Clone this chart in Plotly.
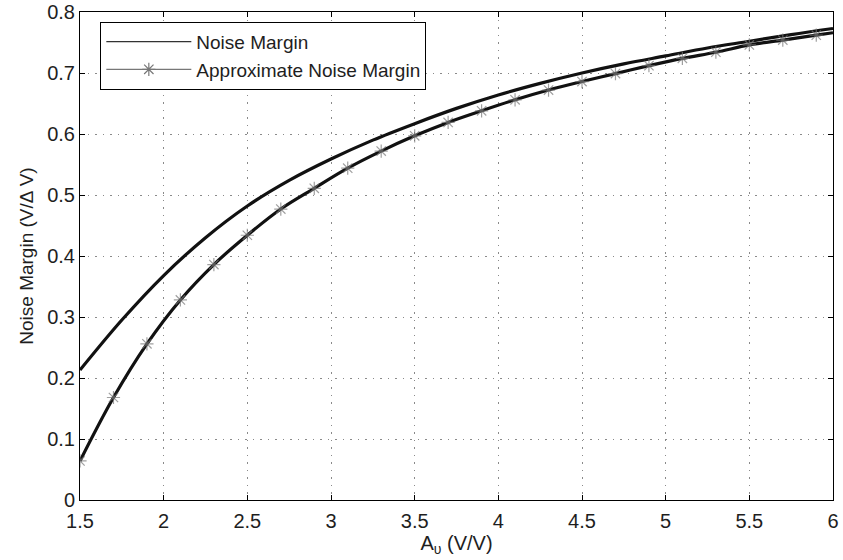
import plotly.graph_objects as go

# Exact noise margin vs. amplifier gain
gain_exact = [1.5, 1.75, 2.0, 2.25, 2.5, 2.75, 3.0, 3.25, 3.5, 3.75, 4.0,
              4.25, 4.5, 4.75, 5.0, 5.25, 5.5, 5.75, 6.0]
nm_exact = [0.213, 0.295, 0.368, 0.430, 0.482, 0.524, 0.559, 0.590, 0.617,
            0.642, 0.664, 0.683, 0.700, 0.715, 0.728, 0.741, 0.752, 0.763, 0.773]

# Approximate noise margin, sampled every 0.2 V/V
gain_approx = [1.5, 1.7, 1.9, 2.1, 2.3, 2.5, 2.7, 2.9, 3.1, 3.3, 3.5, 3.7,
               3.9, 4.1, 4.3, 4.5, 4.7, 4.9, 5.1, 5.3, 5.5, 5.7, 5.9, 6.0]
nm_approx = [0.064, 0.168, 0.256, 0.328, 0.386, 0.434, 0.477, 0.511, 0.544,
             0.572, 0.597, 0.619, 0.638, 0.656, 0.672, 0.686, 0.699, 0.712,
             0.724, 0.734, 0.746, 0.754, 0.762, 0.766]

x_ticks = [1.5, 2, 2.5, 3, 3.5, 4, 4.5, 5, 5.5, 6]
x_tick_text = ["1.5", "2", "2.5", "3", "3.5", "4", "4.5", "5", "5.5", "6"]
y_ticks = [0, 0.1, 0.2, 0.3, 0.4, 0.5, 0.6, 0.7, 0.8]
y_tick_text = ["0", "0.1", "0.2", "0.3", "0.4", "0.5", "0.6", "0.7", "0.8"]

series_names = ["Noise Margin", "Approximate Noise Margin"]

FONT = "Liberation Sans, Arial, Helvetica, sans-serif"
TEXT = "#1e1e1e"
STAR = dict(symbol="asterisk-open", color="#777777",
            line=dict(color="#777777", width=1.2))

# no marker on the closing end point of the approximate curve
marker_sizes = [11] * (len(gain_approx) - 1) + [0]

fig = go.Figure()
fig.add_trace(go.Scatter(
    x=gain_exact, y=nm_exact, mode="lines", name=series_names[0],
    line=dict(color="#111111", width=3.2, shape="spline"),
    showlegend=False, legendgroup="exact",
))
fig.add_trace(go.Scatter(
    x=gain_approx, y=nm_approx, mode="lines+markers", name=series_names[1],
    line=dict(color="#111111", width=3.2, shape="spline"),
    marker=dict(size=marker_sizes, **STAR),
    showlegend=False, legendgroup="approx",
))

# thin-line legend keys
fig.add_trace(go.Scatter(
    x=[None], y=[None], mode="lines", name=series_names[0],
    line=dict(color="#333333", width=1.2), legendgroup="exact",
))
fig.add_trace(go.Scatter(
    x=[None], y=[None], mode="lines+markers", name=series_names[1],
    line=dict(color="#555555", width=1.0), marker=dict(size=11, **STAR),
    legendgroup="approx",
))

axis_common = dict(
    showline=True, linecolor="black", linewidth=1, mirror="ticks",
    ticks="inside", ticklen=5, tickcolor="black",
    showgrid=True, gridcolor="#8a8a8a", gridwidth=1, griddash="1.5px,6px",
    zeroline=False, automargin=False,
    tickfont=dict(family=FONT, size=20, color=TEXT),
)

fig.update_xaxes(
    range=[1.5, 6], tickvals=x_ticks, ticktext=x_tick_text,
    ticklabelstandoff=3,
    title=dict(text="A<sub>υ</sub> (V/V)", font=dict(family=FONT, size=20,
               color=TEXT), standoff=0),
    **axis_common,
)
fig.update_yaxes(
    range=[0, 0.8], tickvals=y_ticks, ticktext=y_tick_text,
    title=dict(text="Noise Margin (V/Δ V)", font=dict(family=FONT, size=19,
               color=TEXT), standoff=8),
    **axis_common,
)

fig.update_layout(
    width=843, height=560,
    margin=dict(l=80, r=10, t=12, b=60),
    paper_bgcolor="white", plot_bgcolor="white",
    font=dict(family=FONT, color=TEXT),
    legend=dict(
        x=0.027, y=0.98, xanchor="left", yanchor="top",
        bgcolor="white", bordercolor="black", borderwidth=1,
        font=dict(family=FONT, size=19, color=TEXT),
        tracegroupgap=0, itemwidth=85,
    ),
)

fig.write_html("out.html")
